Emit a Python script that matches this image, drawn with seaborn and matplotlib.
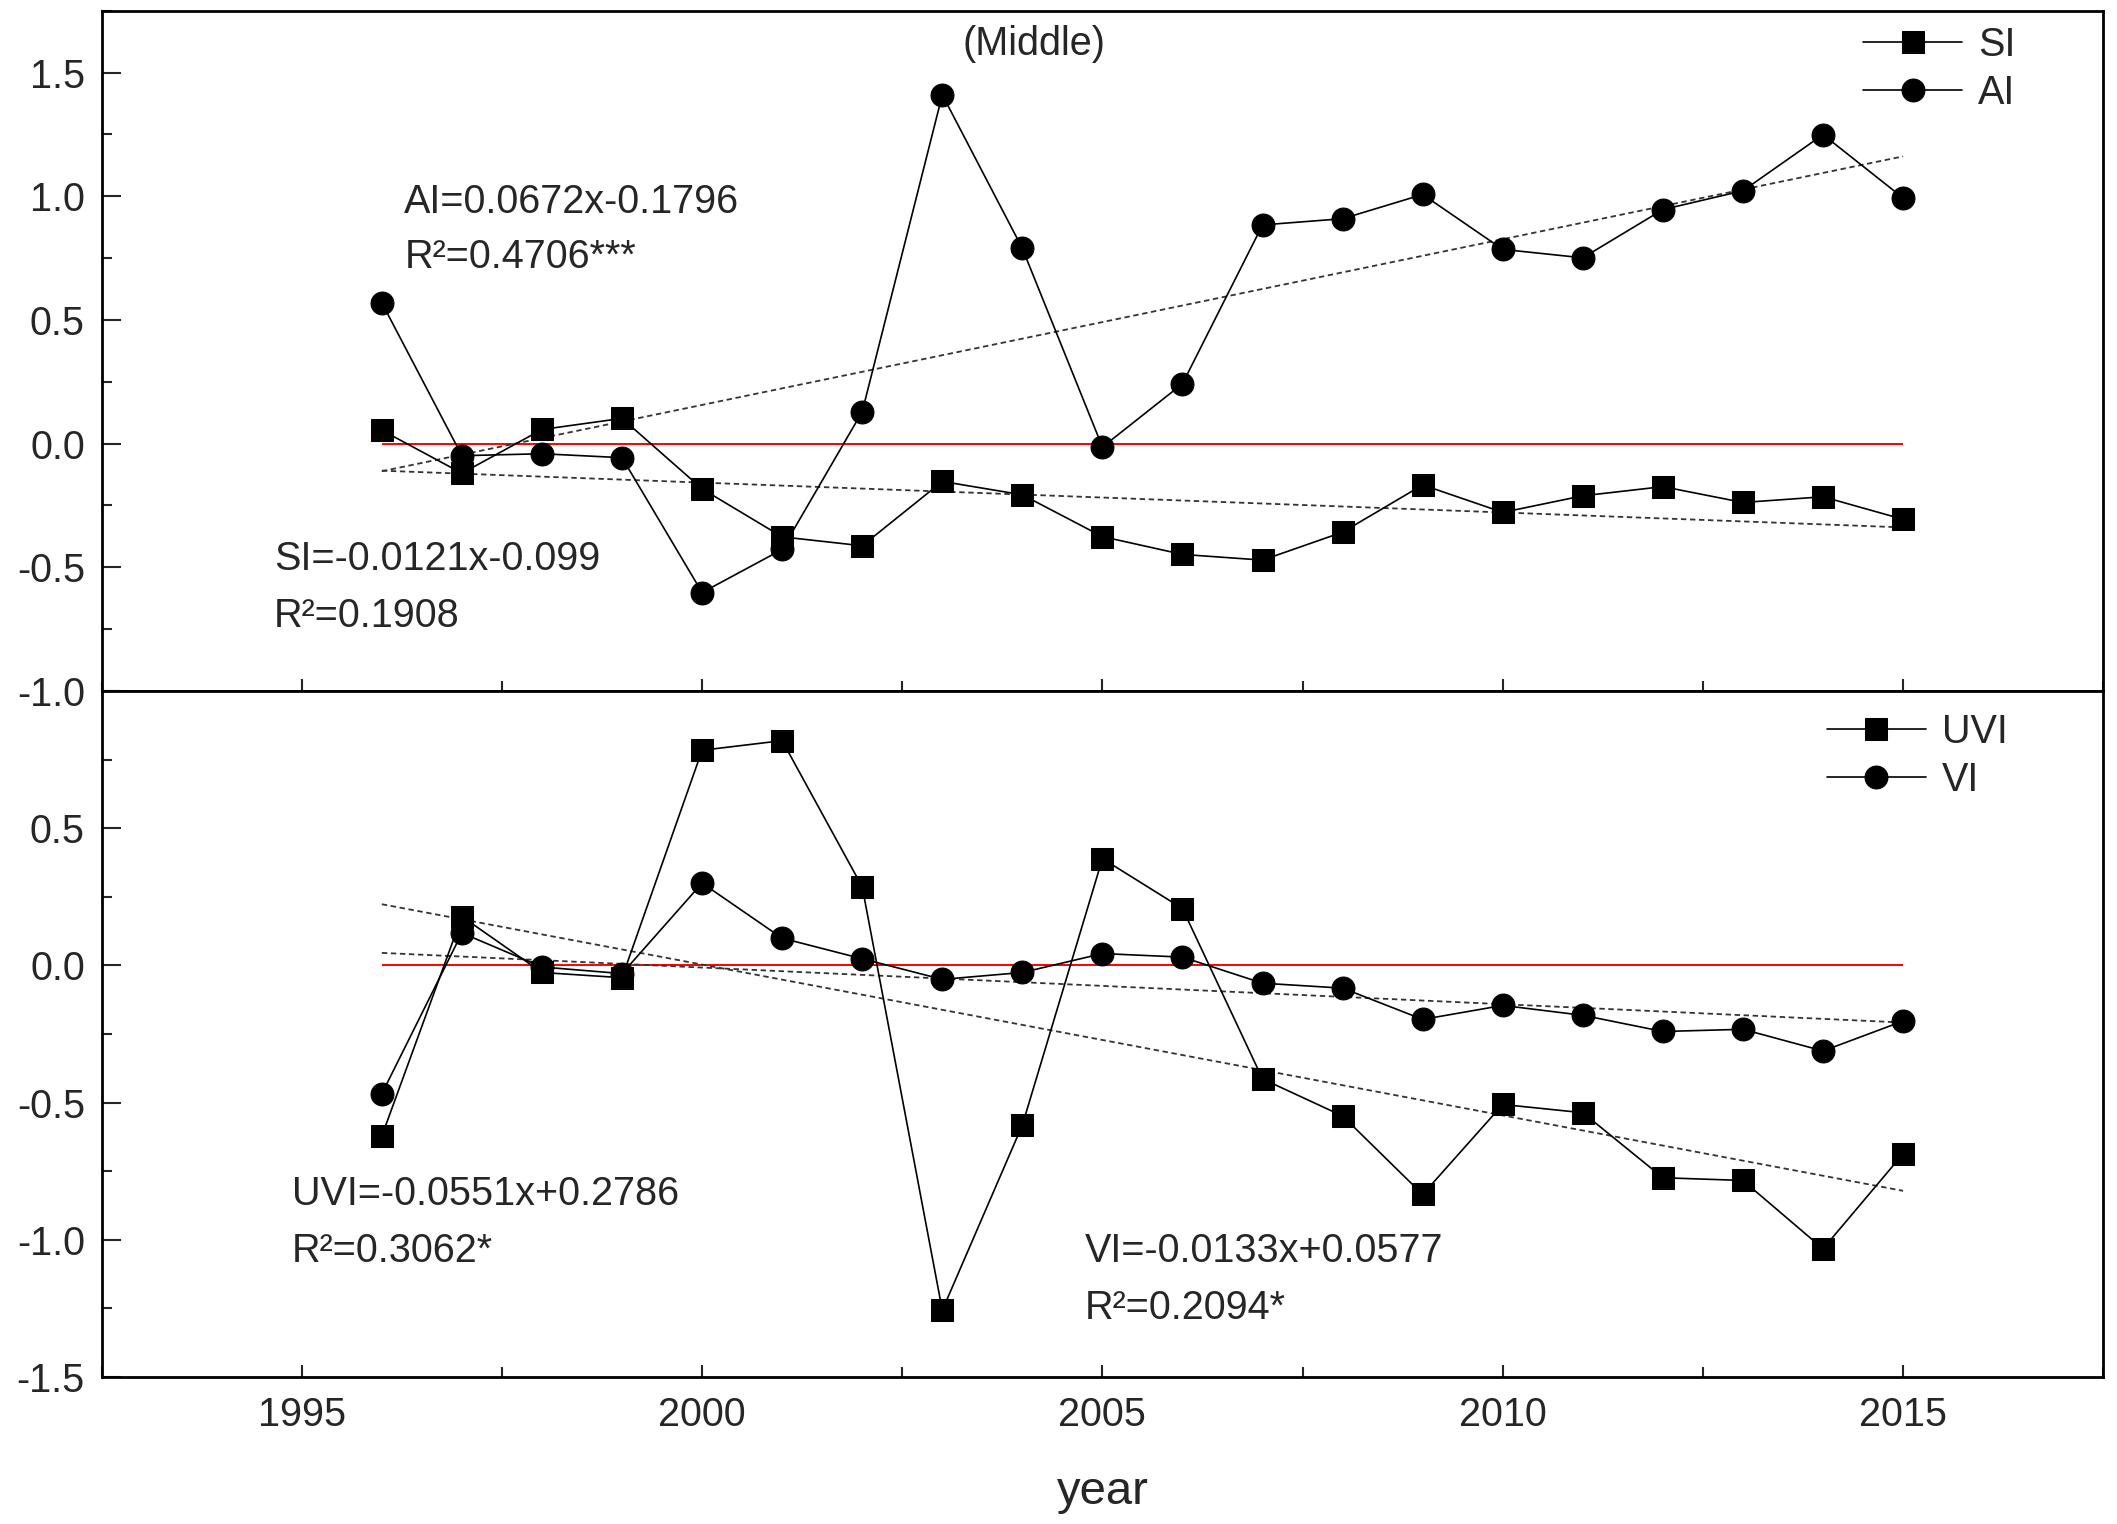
import numpy as np
import pandas as pd
import seaborn as sns
import matplotlib.pyplot as plt
from matplotlib.ticker import MultipleLocator

years = list(range(1996, 2016))

# top panel
si = [0.054, -0.12, 0.057, 0.102, -0.183, -0.377, -0.413, -0.153, -0.207, -0.376,
      -0.448, -0.471, -0.358, -0.167, -0.278, -0.211, -0.174, -0.238, -0.215, -0.306]
ai = [0.569, -0.049, -0.041, -0.057, -0.602, -0.428, 0.129, 1.41, 0.789, -0.014,
      0.242, 0.884, 0.909, 1.007, 0.785, 0.751, 0.946, 1.022, 1.249, 0.993]

# bottom panel
uvi = [-0.622, 0.178, -0.026, -0.045, 0.784, 0.819, 0.286, -1.257, -0.582, 0.389,
       0.207, -0.414, -0.549, -0.835, -0.507, -0.537, -0.774, -0.784, -1.033, -0.687]
vi = [-0.468, 0.118, -0.006, -0.03, 0.3, 0.099, 0.024, -0.051, -0.026, 0.043,
      0.03, -0.065, -0.083, -0.197, -0.146, -0.182, -0.241, -0.233, -0.312, -0.203]

sns.set_style("ticks")
plt.rcParams["font.family"] = ["Liberation Sans", "DejaVu Sans"]
plt.rcParams["axes.unicode_minus"] = False

FS = 28.5

df_top = pd.DataFrame({"year": years, "SI": si, "AI": ai})
df_bot = pd.DataFrame({"year": years, "UVI": uvi, "VI": vi})


def draw_panel(ax, df, sq_name, ci_name, leg_anchor):
    ax.hlines(0, df["year"].min(), df["year"].max(), color="red", lw=1.4, zorder=1)
    for name in (sq_name, ci_name):
        sns.regplot(data=df, x="year", y=name, ax=ax, scatter=False, ci=None,
                    truncate=True,
                    line_kws=dict(color="0.2", lw=1.3, ls=(0, (3, 2)), zorder=2))
    sns.lineplot(data=df, x="year", y=sq_name, ax=ax, color="black", lw=1.2,
                 marker="s", markersize=16.5, markeredgecolor="black", label=sq_name)
    sns.lineplot(data=df, x="year", y=ci_name, ax=ax, color="black", lw=1.2,
                 marker="o", markersize=16.5, markeredgecolor="black", label=ci_name)
    handles, labels = ax.get_legend_handles_labels()
    keep = [(h, l) for h, l in zip(handles, labels) if l in (sq_name, ci_name)]
    ax.legend([h for h, _ in keep], [l for _, l in keep], loc="upper left",
              bbox_to_anchor=leg_anchor, frameon=False, fontsize=FS,
              handlelength=2.5, handletextpad=0.4, labelspacing=0.25,
              borderaxespad=0, borderpad=0)
    ax.set_ylabel("")
    ax.xaxis.set_major_locator(MultipleLocator(5))
    ax.xaxis.set_minor_locator(MultipleLocator(2.5))
    ax.yaxis.set_minor_locator(MultipleLocator(0.25))
    ax.tick_params(axis="both", which="both", direction="in")
    ax.tick_params(axis="y", which="major", length=14, width=1.5, labelsize=FS, pad=12)
    ax.tick_params(axis="y", which="minor", length=7, width=1.5)
    ax.tick_params(axis="x", which="major", length=9, width=1.5, labelsize=FS, pad=14)
    ax.tick_params(axis="x", which="minor", length=7, width=1.5)
    for sp in ax.spines.values():
        sp.set_linewidth(2)
        sp.set_color("black")


fig = plt.figure(figsize=(21.17, 15.24), dpi=100)
ax1 = fig.add_axes([0.048, 0.5466, 0.9455, 0.4464])
ax2 = fig.add_axes([0.048, 0.0965, 0.9455, 0.4501], sharex=ax1)

draw_panel(ax1, df_top, "SI", "AI", (0.880, 0.977))
draw_panel(ax2, df_bot, "UVI", "VI", (0.862, 0.968))

ax1.set_xlim(1992.5, 2017.5)
ax1.set_ylim(-1.0, 1.75)
ax1.set_yticks([-1.0, -0.5, 0.0, 0.5, 1.0, 1.5])
ax1.set_xlabel("")
ax1.tick_params(labelbottom=False)

ax2.set_ylim(-1.5, 1.0)
ax2.set_yticks([-1.5, -1.0, -0.5, 0.0, 0.5])
ax2.set_xlabel("year", fontsize=34, labelpad=26)

ax1.text(2004.14, 1.614, "(Middle)", ha="center", va="center", fontsize=FS)
ax1.text(1996.28, 0.978, "AI=0.0672x-0.1796", ha="left", va="center", fontsize=FS)
ax1.text(1996.28, 0.755, "R²=0.4706***", ha="left", va="center", fontsize=FS)
ax1.text(1994.65, -0.467, "SI=-0.0121x-0.099", ha="left", va="center", fontsize=FS)
ax1.text(1994.65, -0.696, "R²=0.1908", ha="left", va="center", fontsize=FS)

ax2.text(1994.88, -0.832, "UVI=-0.0551x+0.2786", ha="left", va="center", fontsize=FS)
ax2.text(1994.88, -1.04, "R²=0.3062*", ha="left", va="center", fontsize=FS)
ax2.text(2004.78, -1.04, "VI=-0.0133x+0.0577", ha="left", va="center", fontsize=FS)
ax2.text(2004.78, -1.248, "R²=0.2094*", ha="left", va="center", fontsize=FS)

fig.savefig("out.png", dpi=100)
